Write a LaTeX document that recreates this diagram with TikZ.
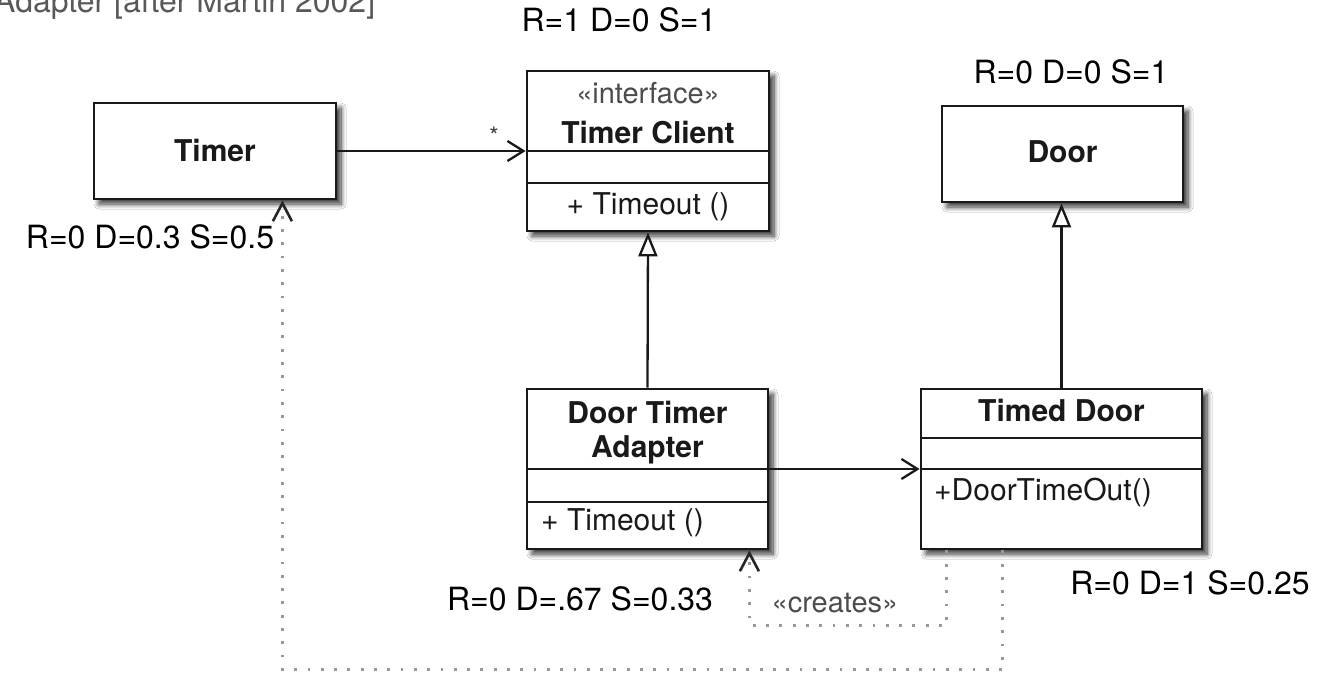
\documentclass[tikz,border=0pt]{standalone}
\usepackage{fontspec}
\setmainfont{TeX Gyre Heros}
\usetikzlibrary{arrows.meta,shadows.blur}
\begin{document}
\begin{tikzpicture}[x=1pt,y=-1pt,
  box/.style={draw=black!90, line width=2.8pt, fill=white, inner sep=0pt,
    blur shadow={shadow xshift=5pt, shadow yshift=-5pt, shadow blur radius=5pt, shadow blur steps=10, shadow opacity=80}},
  div/.style={draw=black!90, line width=2.4pt},
  cname/.style={inner sep=0pt, font=\fontsize{30}{34}\selectfont\bfseries, text=black!90},
  attr/.style={inner sep=0pt, font=\fontsize{30}{34}\selectfont, text=black!90},
  stereo/.style={inner sep=0pt, font=\fontsize{29}{34}\selectfont, text=black!70},
  metric/.style={inner sep=0pt, font=\fontsize{32}{36}\selectfont, text=black},
  assoc/.style={draw=black!90, line width=2.3pt, -{Straight Barb[length=16pt,width=20pt,line width=2.3pt]}},
  gen/.style={draw=black!90, line width=2.3pt, -{Triangle[open,fill=white,length=24pt,width=19pt,line width=2.3pt]}},
  dep/.style={draw=black!40, line width=2.8pt, dash pattern=on 2.8pt off 10.5pt,
    -{Straight Barb[length=18pt,width=19pt,line width=2.6pt,color=black!85]}}
]
\useasboundingbox (0,0) rectangle (1324,673);
\clip (0,0) rectangle (1324,673);
\fill[white] (0,0) rectangle (1324,673);

% title (cut at top)
\node[anchor=base west, inner sep=0pt, font=\fontsize{32}{36}\selectfont, text=black!65] (title) at (-6,12) {Adapter [after Martin 2002]};

% boxes
\node[box, minimum width=242pt, minimum height=96pt] (timer) at (215,151) {};
\node[cname] (timerlbl) at (215,150) {Timer};

\node[box, minimum width=242pt, minimum height=160pt] (tc) at (648,151) {};
\node[stereo] (tcst) at (648,93) {«interface»};
\node[cname] (tclbl) at (648,132) {Timer Client};
\draw[div] (tc.west |- 0,151) -- (tc.east |- 0,151);
\draw[div] (tc.west |- 0,183) -- (tc.east |- 0,183);
\node[attr] (tcop) at (648,207) {+ Timeout ()};

\node[box, minimum width=241pt, minimum height=96pt] (door) at (1062.5,154) {};
\node[cname] (doorlbl) at (1062.5,152) {Door};

\node[box, minimum width=241pt, minimum height=160pt] (adapter) at (647.5,469) {};
\node[cname] (adlbl1) at (647.5,412) {Door Timer};
\node[cname] (adlbl2) at (647.5,450) {Adapter};
\draw[div] (adapter.west |- 0,469) -- (adapter.east |- 0,469);
\draw[div] (adapter.west |- 0,502) -- (adapter.east |- 0,502);
\node[attr, anchor=west] (adop) at (541,523) {+ Timeout ()};

\node[box, minimum width=281pt, minimum height=160pt] (td) at (1061.5,469) {};
\node[cname] (tdlbl) at (1061.5,410) {Timed Door};
\draw[div] (td.west |- 0,438) -- (td.east |- 0,438);
\draw[div] (td.west |- 0,469) -- (td.east |- 0,469);
\node[attr, anchor=west] (tdop) at (934,492) {+DoorTimeOut()};

% connectors
\draw[assoc] (timer.east) -- (tc.west);
\node[inner sep=0pt, font=\fontsize{24}{26}\selectfont, text=black!75] (star) at (494,136) {*};
\draw[gen] (adapter.north) -- (tc.south);
\draw[gen] (td.north) -- (td.north |- door.south);
\draw[assoc] (adapter.east) -- (td.west);
\draw[dep] ([xshift=27pt]td.south west) -- ++(0,75) -| ([xshift=-20pt]adapter.south east);
\draw[dep] ([xshift=83pt]td.south west) -- ++(0,119) -| ([xshift=-55pt]timer.south east);
\node[stereo] (creates) at (835,603) {«creates»};

% metrics
\node[metric] (m1) at (619,20) {R=1 D=0 S=1};
\node[metric] (m2) at (1071,72) {R=0 D=0 S=1};
\node[metric] (m3) at (150,237) {R=0 D=0.3 S=0.5};
\node[metric] (m4) at (580,599) {R=0 D=.67 S=0.33};
\node[metric] (m5) at (1190,583) {R=0 D=1 S=0.25};
\end{tikzpicture}
\end{document}
